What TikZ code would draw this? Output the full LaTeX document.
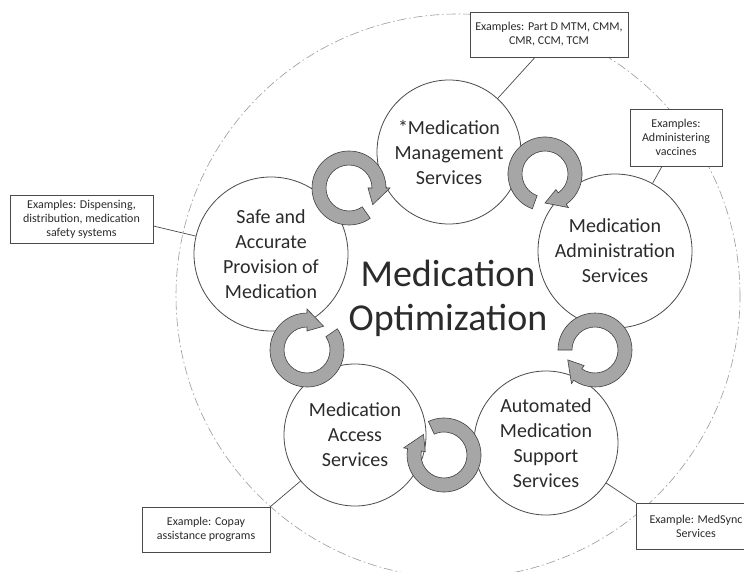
\documentclass[tikz,border=0pt]{standalone}
\usepackage{fontspec}
\setmainfont{Carlito}
\definecolor{ringfill}{HTML}{A6A6A6}
\definecolor{ringline}{HTML}{404040}
\definecolor{lineg}{HTML}{4A4A4A}
\definecolor{dashg}{HTML}{9A9A9A}
\definecolor{txt}{HTML}{2B2B2B}
\newcommand\cycarrow[3]{%
  \path[ringarrow, shift={(#1,#2)}]
    ({#3}:37) arc[start angle={#3}, end angle={#3-305}, radius=37]
    -- ({#3-305}:41) -- ({#3-340}:29) -- ({#3-305}:19) -- ({#3-305}:23)
    arc[start angle={#3-305}, end angle={#3}, radius=23] -- cycle;}
\begin{document}
\begin{tikzpicture}[x=1pt,y=1pt,
  svc/.style={circle, draw=lineg, line width=0.8pt, fill=white, inner sep=0pt,
    align=center, text=txt, font=\fontsize{20}{25}\selectfont},
  exbox/.style={rectangle, draw=lineg, line width=0.7pt, fill=white, inner sep=2pt,
    align=center, text=txt, font=\fontsize{12}{14}\selectfont},
  link/.style={draw=lineg, line width=0.7pt},
  outerring/.style={draw=dashg, line width=0.6pt, dash pattern=on 9pt off 3pt on 1.5pt off 3pt},
  ringarrow/.style={fill=ringfill, draw=ringline, line width=0.6pt, line join=miter}]
\useasboundingbox (0,0) rectangle (744,-572);
\fill[white] (0,0) rectangle (744,-572);
\draw[outerring] (458,-296) circle[radius=282];

\node[svc, minimum size=144pt] (mgmt) at (449,-152) {*Medication\\Management\\Services};
\node[svc, minimum size=154pt] (admin) at (615,-251) {Medication\\Administration\\Services};
\node[svc, minimum size=144pt] (auto) at (546,-443) {Automated\\Medication\\Support\\Services};
\node[svc, minimum size=142pt] (access) at (355,-435) {Medication\\Access\\Services};
\node[svc, minimum size=154pt] (safe) at (271,-254) {Safe and\\Accurate\\Provision of\\Medication};

\node[text=txt, align=center, font=\fontsize{38}{44}\selectfont] (opt) at (448,-298) {Medication\\Optimization};

\node[exbox, minimum width=158pt, minimum height=45pt] (exmgmt) at (549,-34.5) {Examples: Part D MTM, CMM,\\CMR, CCM, TCM};
\node[exbox, minimum width=92pt, minimum height=57pt] (exadmin) at (676,-137.5) {Examples:\\Administering\\vaccines};
\node[exbox, minimum width=143pt, minimum height=48pt] (exsafe) at (81.5,-219) {Examples: Dispensing,\\distribution, medication\\safety systems};
\node[exbox, minimum width=128pt, minimum height=45pt] (exaccess) at (206,-529.5) {Example: Copay\\assistance programs};
\node[exbox, minimum width=120pt, minimum height=46pt] (exauto) at (696,-526) {Example: MedSync\\Services};

\draw[link] ([xshift=-14pt]exmgmt.south) -- (mgmt);
\draw[link] ([xshift=-14pt]exadmin.south) -- (admin);
\draw[link] ([yshift=-7pt]exsafe.east) -- (safe);
\draw[link] (exaccess.north east) -- (access);
\draw[link] (exauto.north west) -- (auto);

\cycarrow{349}{-188}{-55}
\cycarrow{545}{-174}{-110}
\cycarrow{595}{-350}{180}
\cycarrow{307}{-350}{35}
\cycarrow{444}{-455}{115}
\end{tikzpicture}
\end{document}
